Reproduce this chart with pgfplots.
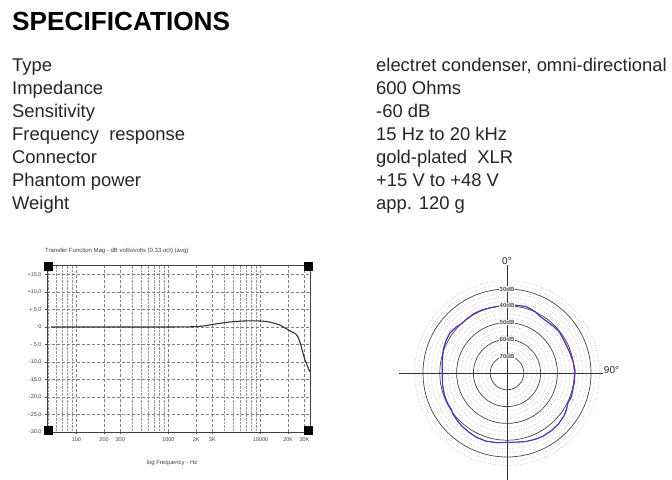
\documentclass[border=0pt]{standalone}
\usepackage{fontspec}
\setmainfont{Liberation Sans}
\usepackage{pgfplots}
\pgfplotsset{compat=1.18}
\definecolor{gridgray}{RGB}{150,150,150}
\definecolor{ringdark}{RGB}{70,70,70}
\definecolor{polblue}{RGB}{55,60,215}
\definecolor{polred}{RGB}{205,40,95}
\begin{document}
\begin{tikzpicture}
\useasboundingbox (0,0) rectangle (672bp,-480bp);
\fill[white] (0,0) rectangle (672bp,-480bp);
% ---------- specifications text ----------
\node[anchor=base west,inner sep=0] at (12bp,-30bp) {\fontsize{26.2bp}{28bp}\selectfont\bfseries SPECIFICATIONS};
\begin{scope}[every node/.style={anchor=base west,inner sep=0,font=\fontsize{18.4bp}{20bp}\selectfont,text=black!85}]
\node at (12bp,-71bp) {Type};
\node at (12bp,-94bp) {Impedance};
\node at (12bp,-117bp) {Sensitivity};
\node at (12bp,-140bp) {Frequency\ \ response};
\node at (12bp,-163bp) {Connector};
\node at (12bp,-186bp) {Phantom power};
\node at (12bp,-209bp) {Weight};
\node at (376bp,-71bp) {electret condenser, omni-directional};
\node at (376bp,-94bp) {600 Ohms};
\node at (376bp,-117bp) {-60 dB};
\node at (376bp,-140bp) {15 Hz to 20 kHz};
\node at (376bp,-163bp) {gold-plated\ \ XLR};
\node at (376bp,-186bp) {+15 V to +48 V};
\node at (376bp,-209bp) {app. 120 g};
\end{scope}
% ---------- frequency response ----------
\node[anchor=west,inner sep=0,font=\fontsize{6bp}{7bp}\selectfont,text=black!75] at (45bp,-251bp) {Transfer Function Mag - dB volts/volts (0.33 oct) (avg)};
\node[inner sep=0,font=\fontsize{6bp}{7bp}\selectfont,text=black!75] at (172bp,-463bp) {log Frequency - Hz};
\begin{axis}[
  at={(47bp,-432bp)}, anchor=south west,
  scale only axis, width=263bp, height=167bp,
  xmode=log, xmin=48, xmax=34500, ymin=-30, ymax=17.7,
  xtick={100,200,300,1000,2000,3000,10000,20000,30000},
  xticklabels={100,200,300,1000,2K,3K,10000,20K,30K},
  minor xtick={50,60,70,80,90,400,500,600,700,800,900,4000,5000,6000,7000,8000,9000},
  ytick={-30,-25,-20,-15,-10,-5,0,5,10,15},
  yticklabels={{-30,0},{-25,0},{-20,0},{-15,0},{-10,0},{- 5,0},0,{+ 5,0},{+10,0},{+15,0}},
  xtick pos=bottom, ytick pos=left,
  tick align=outside, major tick length=2bp, minor tick length=0bp,
  tick style={black!70,line width=0.5bp},
  grid=both,
  major grid style={gridgray!85!black,densely dashed,line width=0.4bp},
  minor grid style={gridgray,densely dotted,line width=0.35bp},
  tick label style={font=\fontsize{5.5bp}{6bp}\selectfont,text=black!75},
  /pgf/number format/assume math mode=true,
  axis line style={black!75,line width=0.9bp},
  clip=false,
]
\addplot[black!80,line width=1.1bp,smooth,tension=0.5] coordinates {
 (53,0) (100,0) (200,0) (500,0) (1000,0) (1500,0.03) (2000,0.1) (2500,0.35) (3000,0.7)
 (4000,1.2) (5000,1.5) (6500,1.7) (8000,1.75) (10000,1.7) (12000,1.5) (14000,1.1)
 (16000,0.6) (18000,-0.1) (20000,-0.8) (22000,-1.4) (24000,-1.9) (25500,-2.8)
 (27000,-4.6) (28500,-6.8) (30000,-8.9) (32000,-10.9) (34500,-12.8)};
\fill[black] (rel axis cs:0,0) ++(-3bp,-3bp) rectangle ++(9bp,9bp);
\fill[black] (rel axis cs:1,0) ++(3bp,-3bp) rectangle ++(-9bp,9bp);
\fill[black] (rel axis cs:0,1) ++(-3bp,3bp) rectangle ++(9bp,-9bp);
\fill[black] (rel axis cs:1,1) ++(3bp,3bp) rectangle ++(-9bp,-9bp);
\end{axis}
% ---------- polar pattern ----------
\begin{axis}[
  at={(507bp,-373bp)}, anchor=origin,
  x=1.68bp, y=1.68bp,
  xmin=-64, xmax=57, ymin=-64, ymax=64,
  hide axis, clip=false,
]
\pgfplotsinvokeforeach{12.5,15,17.5,22.5,25,27.5,32.5,35,37.5,42.5,45,47.5,52.5,55}{
  \draw[gridgray,dotted,line width=0.5bp] (axis cs:0,0) circle[radius=#1];
}
\pgfplotsinvokeforeach{10,20,30,40,50}{
  \draw[ringdark,line width=0.7bp] (axis cs:0,0) circle[radius=#1];
}
\draw[black!80,line width=0.8bp] (axis cs:-64,0) -- (axis cs:57,0);
\draw[black!80,line width=0.8bp] (axis cs:0,-64) -- (axis cs:0,64);
\addplot[polred,line width=0.9bp,data cs=polar] coordinates {
 (90,40.2) (82,40.8) (74,41.0) (66,40.2) (60,39.2) (53,38.9) (45,39.3) (38,39.5) (31,39.2)
 (25,39.1) (18,39.5) (10,40.0) (3,40.6) (0,40.6) (-7,40.3) (-14,40.3) (-20,41.0) (-26,40.2)
 (-31,41.6) (-37,42.6) (-45,43.1) (-52,43.2) (-60,43.3) (-67,43.0) (-74,42.4) (-82,41.6)
 (-90,41.3) (-98,41.8) (-107,42.4) (-115,42.5) (-122,41.8) (-130,41.6) (-137,40.8) (-143,40.5)
 (-147,39.5) (-153,39.8) (-160,39.5) (-170,38.9) (-180,38.7) (-190,39.2) (-200,40.3)
 (-208,41.0) (-215,41.4) (-222,40.7) (-228,40.0) (-233,40.2) (-241,40.6) (-249,40.4)
 (-256,40.0) (-263,40.1) (-270,40.2)};
\addplot[polblue,line width=0.9bp,data cs=polar] coordinates {
 (90,40.0) (82,40.6) (74,41.3) (66,40.3) (60,39.0) (53,38.7) (45,39.1) (38,39.6) (31,39.0)
 (25,38.9) (18,39.2) (10,39.8) (3,40.2) (0,40.3) (-7,40.6) (-14,40.5) (-20,40.7) (-26,40.5)
 (-31,41.3) (-37,42.4) (-45,43.2) (-52,43.4) (-60,43.4) (-67,42.8) (-74,42.3) (-82,41.5)
 (-90,41.3) (-98,41.9) (-107,42.5) (-115,42.3) (-122,42.0) (-130,41.4) (-137,41.0) (-143,40.3)
 (-147,39.7) (-153,39.6) (-160,39.6) (-170,39.1) (-180,38.5) (-190,39.0) (-200,40.5)
 (-208,41.2) (-215,41.6) (-222,40.9) (-228,39.9) (-233,39.9) (-241,40.4) (-249,40.3)
 (-256,40.2) (-263,40.0) (-270,40.0)};
\node[fill=white,inner sep=0.4bp,font=\fontsize{6bp}{6bp}\selectfont\bfseries,text=black!70] at (axis cs:0,50) {30dB};
\node[fill=white,inner sep=0.4bp,font=\fontsize{6bp}{6bp}\selectfont\bfseries,text=black!70] at (axis cs:0,40) {40dB};
\node[fill=white,inner sep=0.4bp,font=\fontsize{6bp}{6bp}\selectfont\bfseries,text=black!70] at (axis cs:0,30) {50dB};
\node[fill=white,inner sep=0.4bp,font=\fontsize{6bp}{6bp}\selectfont\bfseries,text=black!70] at (axis cs:0,20) {60dB};
\node[fill=white,inner sep=0.4bp,font=\fontsize{6bp}{6bp}\selectfont\bfseries,text=black!70] at (axis cs:0,10) {70dB};
\node[anchor=south,inner sep=1bp,font=\fontsize{10bp}{10bp}\selectfont,text=black!85] at (axis cs:0,64) {0°};
\node[anchor=south west,inner sep=1bp,font=\fontsize{10bp}{10bp}\selectfont,text=black!85] at (axis cs:57,-1) {90°};
\end{axis}
\end{tikzpicture}
\end{document}
